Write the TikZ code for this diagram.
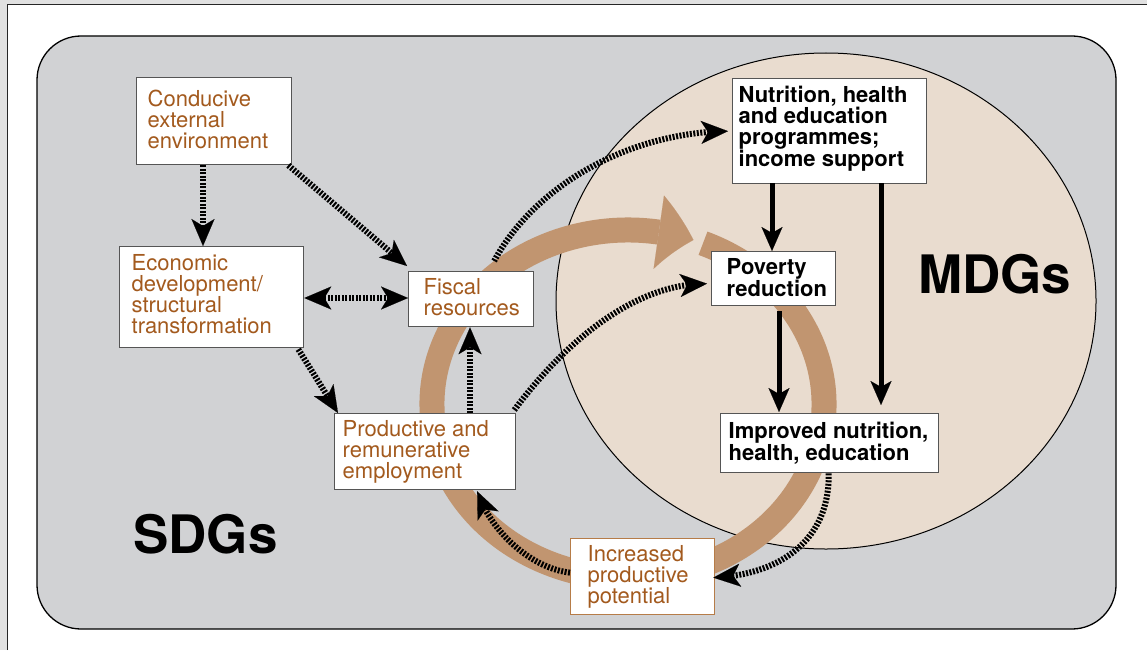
\documentclass[tikz,border=0pt]{standalone}
\usepackage{fontspec}
\setmainfont{TeX Gyre Heros}
\usetikzlibrary{arrows.meta,bending,calc}
\hyphenpenalty=10000
\exhyphenpenalty=10000
\definecolor{pagegray}{RGB}{225,225,225}
\definecolor{sdggray}{RGB}{209,210,212}
\definecolor{mdgfill}{RGB}{233,220,207}
\definecolor{bandcol}{RGB}{193,149,112}
\definecolor{brtext}{RGB}{163,90,30}
\definecolor{boxline}{RGB}{85,85,85}
\definecolor{incrline}{RGB}{182,124,72}
% #1 box height, #2 text width, #3 space above first line, #4 text
\newcommand\boxtext[4]{\parbox[c][#1][t]{#2}{\raggedright\vspace*{#3}\rule{0pt}{17pt}#4}}
\tikzset{
  box/.style={draw=boxline, line width=1.3pt, fill=white, anchor=north west, inner ysep=0pt,
    font=\fontsize{22}{21}\selectfont},
  sdgbox/.style={box, text=brtext},
  mdgbox/.style={box, text=black, font=\fontsize{22}{21}\selectfont\bfseries},
  goal/.style={anchor=base west, inner sep=0pt, font=\fontsize{53}{53}\selectfont\bfseries},
  dotarrow/.style={line width=6pt, dash pattern=on 2pt off 1.5pt,
    -{Stealth[length=27pt,width=23pt,inset=7pt,line width=0.1pt]}},
  dotboth/.style={line width=6pt, dash pattern=on 2pt off 1.5pt,
    {Stealth[length=27pt,width=23pt,inset=7pt,line width=0.1pt]}-{Stealth[length=27pt,width=23pt,inset=7pt,line width=0.1pt]}},
  solidarrow/.style={line width=5pt, -{Stealth[length=24pt,width=21pt,inset=6pt,line width=0.1pt]}},
  bandarrow/.style={draw=bandcol, line width=25pt,
    -{Triangle[length=36pt,width=74pt,line width=0.1pt,bend]}}
}
\begin{document}
\begin{tikzpicture}[x=1pt,y=-1pt]
\useasboundingbox (0,0) rectangle (1147,650);
% page
\fill[pagegray] (0,0) rectangle (1147,650);
\fill[white] (7.5,4.5) rectangle (1147,650);
\draw[line width=1.2pt, black!85] (7.5,650) -- (7.5,4.5) -- (1147,4.5);
% SDG area
\draw[fill=sdggray, line width=1.3pt, rounded corners=44pt] (37,36) rectangle (1116,629);
% MDG ellipse
\draw[fill=mdgfill, line width=1pt] (826,301) ellipse [x radius=270, y radius=248];
% big cycle band
\draw[bandarrow] ($(628,404)+(-67.5:196 and 174)$) arc[start angle=-67.5, end angle=289.5, x radius=196, y radius=174];
% labels
\node[goal] (mdg) at (918,293) {MDGs};
\node[goal] (sdg) at (133,553) {SDGs};
% boxes
\node[sdgbox, inner xsep=11pt] (cond) at (136,77) {\boxtext{87pt}{133pt}{11.7pt}{Conducive\\external\\environment}};
\node[sdgbox, inner xsep=12pt] (econ) at (119,246) {\boxtext{101pt}{160pt}{7.3pt}{Economic\\development/\\structural\\transformation}};
\node[sdgbox, inner xsep=15pt] (fisc) at (408,271) {\boxtext{55pt}{95pt}{5.6pt}{Fiscal\\resources}};
\node[sdgbox, inner xsep=8pt] (prod) at (334,413) {\boxtext{76pt}{165pt}{5.7pt}{Productive and\\remunerative\\employment}};
\node[sdgbox, draw=incrline, inner xsep=17pt] (incr) at (570,538) {\boxtext{76pt}{110pt}{5.4pt}{Increased\\productive\\potential}};
\node[mdgbox, inner xsep=6pt] (nutr) at (732,78) {\boxtext{105pt}{182pt}{6.4pt}{Nutrition, health\\and education\\programmes;\\income support}};
\node[mdgbox, inner xsep=15pt] (pov) at (711,251) {\boxtext{54pt}{94pt}{5.6pt}{Poverty\\reduction}};
\node[mdgbox, inner xsep=8pt] (impr) at (720,413) {\boxtext{59pt}{202pt}{8pt}{Improved nutrition,\\health, education}};
% dotted connectors
\draw[dotarrow] (cond.south -| 203,0) -- (econ.north -| 203,0);
\draw[dotarrow] ($(cond.south east)+(-4,0)$) -- ($(fisc.north west)+(-1,-5)$);
\draw[dotboth] (econ.east |- 0,298) -- (fisc.west |- 0,298);
\draw[dotarrow] ($(econ.south east)+(-6,1)$) -- ($(prod.north west)+(4,0)$);
\draw[dotarrow] (prod.north -| 470,0) -- (fisc.south -| 470,0);
\draw[dotarrow] ($(prod.north east)+(-2,-3)$) .. controls (570,335) and (640,283) .. ($(pov.west)+(-4,5)$);
\draw[dotarrow] ($(fisc.north)+(23,-10)$) .. controls (535,185) and (630,132) .. ($(nutr.west)+(-4,0)$);
\draw[dotarrow] ($(impr.south)+(-1,0)$) .. controls (830,540) and (780,575) .. ($(incr.east)+(-2,1)$);
\draw[dotarrow] ($(incr.west)+(0,-4)$) .. controls (530,568) and (490,530) .. ($(prod.south)+(52,1)$);
% solid connectors
\draw[solidarrow] ($(nutr.south -| 772,0)+(0,-1)$) -- (pov.north -| 772,0);
\draw[solidarrow] ($(nutr.south -| 881,0)+(0,-1)$) -- ($(impr.north -| 881,0)+(0,-8)$);
\draw[solidarrow] ($(pov.south -| 779,0)+(0,5)$) -- ($(impr.north -| 779,0)+(0,-1)$);
\end{tikzpicture}
\end{document}
